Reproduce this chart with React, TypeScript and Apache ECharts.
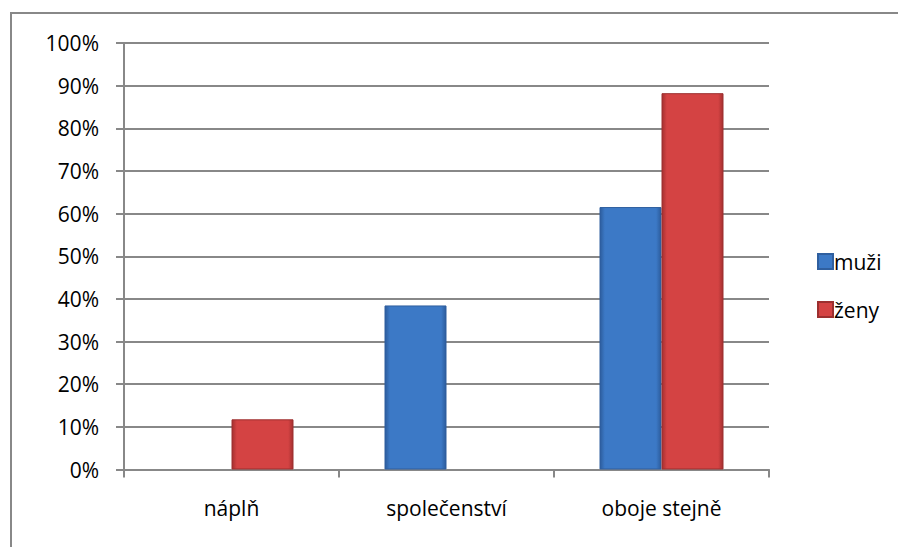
import React, { useEffect, useRef } from "react";
import * as echarts from "echarts";

const categories = ["náplň", "společenství", "oboje stejně"];
const seriesNames = ["muži", "ženy"];
const muzi: (number | null)[] = [null, 5 / 13, 8 / 13];
const zeny: (number | null)[] = [2 / 17, null, 15 / 17];
const yTicks = [0, 0.1, 0.2, 0.3, 0.4, 0.5, 0.6, 0.7, 0.8, 0.9, 1];

const FONT = "'Open Sans', 'Noto Sans', sans-serif";
const GRAY = "#888888";

function grad(edge: string, mid: string) {
  return new echarts.graphic.LinearGradient(0, 0, 1, 0, [
    { offset: 0, color: edge },
    { offset: 0.08, color: mid },
    { offset: 0.92, color: mid },
    { offset: 1, color: edge },
  ]);
}

export default function App() {
  const ref = useRef<HTMLDivElement>(null);
  useEffect(() => {
    if (!ref.current) return;
    const chart = echarts.init(ref.current, undefined, { renderer: "svg" });
    chart.setOption({
      animation: false,
      backgroundColor: "#ffffff",
      textStyle: { fontFamily: FONT, color: "#000" },
      graphic: [
        {
          type: "polyline",
          shape: { points: [[11, 560], [11, 13], [910, 13]] },
          style: { fill: "none", stroke: GRAY, lineWidth: 2 },
          silent: true,
        },
      ],
      grid: { left: 124, top: 43, width: 645, height: 426.5 },
      legend: {
        orient: "vertical",
        left: 812,
        top: 246,
        itemWidth: 15,
        itemHeight: 15,
        itemGap: 27,
        icon: "rect",
        textStyle: { fontFamily: FONT, fontSize: 21, color: "#000", padding: [0, 0, 0, -4] },
        data: seriesNames,
      },
      xAxis: {
        type: "category",
        data: categories,
        axisLine: { show: true, lineStyle: { color: GRAY, width: 2 } },
        axisTick: { show: true, length: 8, lineStyle: { color: GRAY, width: 2 } },
        axisLabel: { fontFamily: FONT, fontSize: 21, color: "#000", margin: 28 },
      },
      yAxis: {
        type: "value",
        min: yTicks[0],
        max: yTicks[yTicks.length - 1],
        interval: 0.1,
        axisLine: { show: true, lineStyle: { color: GRAY, width: 2 } },
        axisTick: { show: true, length: 8, lineStyle: { color: GRAY, width: 2 } },
        splitLine: { show: true, lineStyle: { color: GRAY, width: 2 } },
        axisLabel: {
          fontFamily: FONT,
          fontSize: 21,
          color: "#000",
          margin: 25,
          formatter: (v: number) => `${Math.round(v * 100)}%`,
        },
      },
      series: [
        {
          name: seriesNames[0],
          type: "bar",
          data: muzi,
          barWidth: 62,
          barGap: "0%",
          itemStyle: { color: grad("#2c5c9c", "#3c79c6"), borderColor: "#2f5f9f", borderWidth: 1 },
        },
        {
          name: seriesNames[1],
          type: "bar",
          data: zeny,
          barWidth: 62,
          barGap: "0%",
          itemStyle: { color: grad("#a53030", "#d44343"), borderColor: "#9c2f2f", borderWidth: 1 },
        },
      ],
    });
    return () => chart.dispose();
  }, []);
  return (
    <div
      ref={ref}
      style={{ position: "fixed", left: 0, top: 0, width: 898, height: 547 }}
    />
  );
}
